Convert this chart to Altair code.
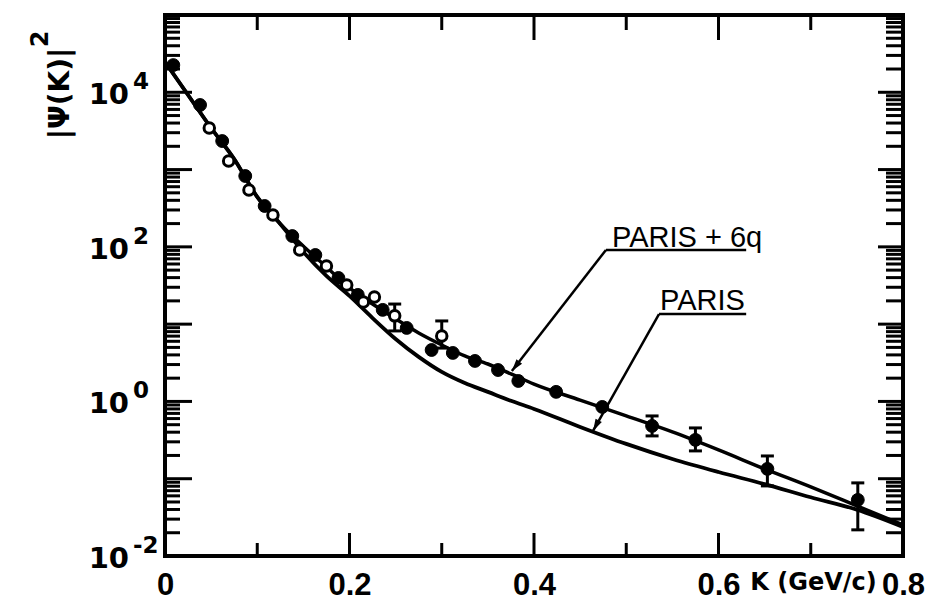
import altair as alt
import pandas as pd

# ---------------- data ----------------
filled_k = [0.009, 0.038, 0.062, 0.087, 0.108, 0.138, 0.163, 0.188, 0.209, 0.236, 0.262,
            0.289, 0.312, 0.336, 0.361, 0.383, 0.424, 0.474, 0.528, 0.575, 0.653, 0.751]
filled_psi2 = [22500, 6850, 2340, 826, 338, 138, 78.5, 39.6, 23.9, 15.3, 8.93,
               4.63, 4.24, 3.34, 2.55, 1.84, 1.33, 0.849, 0.482, 0.318, 0.134, 0.0532]

open_k = [0.048, 0.069, 0.091, 0.117, 0.146, 0.175, 0.197, 0.215, 0.227, 0.249, 0.300]
open_psi2 = [3450, 1290, 545, 259, 91.2, 56.6, 32.1, 19.4, 22.5, 12.8, 7.03]

err_k = [0.249, 0.300, 0.528, 0.575, 0.653, 0.751]
err_lo = [8.17, 4.9, 0.358, 0.229, 0.0807, 0.0218]
err_hi = [18.2, 11.0, 0.649, 0.454, 0.197, 0.0883]

curve_k = [0.000, 0.025, 0.050, 0.075, 0.100, 0.125, 0.150, 0.175, 0.200, 0.225, 0.250,
           0.275, 0.300, 0.325, 0.350, 0.375, 0.400, 0.450, 0.500, 0.550, 0.600, 0.650,
           0.700, 0.750, 0.800]
paris6q_psi2 = [24700, 9230, 3450, 1370, 442, 198, 102, 55.0, 29.4, 18.2, 11.7,
                7.69, 5.38, 3.88, 3.05, 2.27, 1.68, 1.04, 0.649, 0.403, 0.236, 0.134,
                0.0783, 0.0445, 0.0252]
paris_psi2 = [24700, 9230, 3450, 1370, 442, 198, 85.9, 42.1, 23.2, 12.0, 6.43,
              3.77, 2.41, 1.73, 1.33, 1.02, 0.80, 0.468, 0.282, 0.180, 0.122, 0.0851,
              0.0575, 0.0398, 0.0238]

# annotation anchors (data coordinates)
ann_labels = ["PARIS + 6q", "PARIS"]
ann_text_k = [0.4846, 0.5366]
ann_text_psi2 = [99.8, 15.3]
ann_line_k_end = [0.630, 0.630]
ann_start_k = [0.478, 0.5355]
ann_start_psi2 = [91.2, 13.5]
ann_tip_k = [0.376, 0.464]
ann_tip_psi2 = [2.48, 0.415]

# axis ticks / labels
x_label_values = [0, 0.2, 0.4, 0.6, 0.8]
x_label_texts = ["0", "0.2", "0.4", "0.6", "0.8"]
x_major_ticks = [0.2, 0.4, 0.6]
x_minor_ticks = [0.1, 0.3, 0.5, 0.7]
y_label_values = [1e4, 1e2, 1.0, 1e-2]
y_label_base = ["10", "10", "10", "10"]
y_label_exp = ["4", "2", "0", "-2"]
y_major_ticks = [1e-1, 1.0, 1e1, 1e2, 1e3, 1e4]
y_minor_ticks = [m * 10.0 ** e for e in range(-2, 5) for m in range(2, 10)]
y_title = "|Ψ(K)|"
y_title_power = ["2"]

# ---------------- chart ----------------
W, H = 738, 541
xs = alt.Scale(domain=[0, 0.8], nice=False, zero=False)
ys = alt.Scale(type="log", domain=[0.01, 1e5], nice=False)

label_expr = " : ".join(
    f"datum.value == {v} ? '{t}'" for v, t in zip(x_label_values, x_label_texts)
) + " : ''"

x_axis = alt.Axis(values=x_label_values, labelExpr=label_expr, ticks=False, tickSize=0,
                  domain=False, grid=False, labelFont="Liberation Sans",
                  labelFontWeight="bold", labelFontSize=31, labelColor="black",
                  labelBaseline="alphabetic", labelPadding=38, labelOverlap=False,
                  labelFlush=False, title="K (GeV/c)", titleX=648, titleY=33,
                  titleAlign="center", titleBaseline="alphabetic", titleFont="DejaVu Sans",
                  titleFontWeight="bold", titleFontSize=24, titleColor="black")
y_axis = alt.Axis(values=y_label_values, labels=False, ticks=False, tickSize=0, domain=False,
                  grid=False, title=y_title, titleAngle=270, titleX=-105, titleY=78,
                  titleAlign="center", titleBaseline="middle", titleFont="DejaVu Sans",
                  titleFontWeight="bold", titleFontSize=28, titleColor="black")


def X(f):
    return alt.X(f, type="quantitative", scale=xs, axis=x_axis)


def Y(f):
    return alt.Y(f, type="quantitative", scale=ys, axis=y_axis)


curves = pd.DataFrame({"k": curve_k, "upper": paris6q_psi2, "lower": paris_psi2})
upper = alt.Chart(curves).mark_line(color="black", strokeWidth=3.5, interpolate="monotone").encode(
    x=X("k"), y=Y("upper"))
lower = alt.Chart(curves).mark_line(color="black", strokeWidth=3.8, interpolate="monotone").encode(
    x=X("k"), y=Y("lower"))

err = pd.DataFrame({"k": err_k, "lo": err_lo, "hi": err_hi})
err_rule = alt.Chart(err).mark_rule(color="black", strokeWidth=3).encode(
    x=X("k"), y=Y("lo"), y2="hi:Q")
cap_lo = alt.Chart(err).mark_tick(color="black", orient="horizontal", size=13, thickness=3,
                                  opacity=1).encode(x=X("k"), y=Y("lo"))
cap_hi = alt.Chart(err).mark_tick(color="black", orient="horizontal", size=13, thickness=3,
                                  opacity=1).encode(x=X("k"), y=Y("hi"))

filled = alt.Chart(pd.DataFrame({"k": filled_k, "v": filled_psi2})).mark_point(
    shape="circle", filled=True, fill="black", stroke="black", strokeWidth=1, size=165,
    opacity=1).encode(x=X("k"), y=Y("v"))
opened = alt.Chart(pd.DataFrame({"k": open_k, "v": open_psi2})).mark_point(
    shape="circle", filled=True, fill="white", stroke="black", strokeWidth=3, size=110,
    opacity=1).encode(x=X("k"), y=Y("v"))

ann = pd.DataFrame({"label": ann_labels, "tk": ann_text_k, "tv": ann_text_psi2,
                    "sk": ann_start_k, "sv": ann_start_psi2, "ek": ann_line_k_end,
                    "pk": ann_tip_k, "pv": ann_tip_psi2})
ann_text = alt.Chart(ann).mark_text(align="left", baseline="alphabetic", font="Liberation Sans",
                                    fontSize=29, color="black").encode(
    x=X("tk"), y=Y("tv"), text="label:N")
ann_under = alt.Chart(ann).mark_rule(color="black", strokeWidth=2.5).encode(
    x=X("sk"), x2="ek:Q", y=Y("sv"))
ann_lead = alt.Chart(ann).mark_rule(color="black", strokeWidth=2.5).encode(
    x=X("sk"), x2="pk:Q", y=Y("sv"), y2="pv:Q")
arrow_shape = "M -0.5 1.7 L 0 0 L 0.5 1.7 Z"
arrow1 = alt.Chart(ann.iloc[[0]]).mark_point(shape=arrow_shape, filled=True, color="black",
                                             size=200, angle=218, opacity=1).encode(
    x=X("pk"), y=Y("pv"))
arrow2 = alt.Chart(ann.iloc[[1]]).mark_point(shape=arrow_shape, filled=True, color="black",
                                             size=200, angle=208, opacity=1).encode(
    x=X("pk"), y=Y("pv"))

# inward ticks of the frame
ymaj = pd.DataFrame({"v": y_major_ticks})
ymin = pd.DataFrame({"v": y_minor_ticks})
xmaj = pd.DataFrame({"k": x_major_ticks})
xmin = pd.DataFrame({"k": x_minor_ticks})


def ytick(df, a, b):
    return alt.Chart(df).mark_rule(color="black", strokeWidth=3).encode(
        y=Y("v"), x=alt.value(a), x2=alt.value(b))


def xtick(df, a, b):
    return alt.Chart(df).mark_rule(color="black", strokeWidth=3).encode(
        x=X("k"), y=alt.value(a), y2=alt.value(b))


ticks = [ytick(ymin, 0, 15), ytick(ymaj, 0, 27), ytick(ymin, W, W - 17), ytick(ymaj, W, W - 25),
         xtick(xmin, H, H - 13), xtick(xmaj, H, H - 23), xtick(xmin, 0, 15), xtick(xmaj, 0, 25)]

ylab = pd.DataFrame({"v": y_label_values, "base": y_label_base, "exp": y_label_exp})
ten = alt.Chart(ylab).mark_text(align="right", baseline="middle", font="DejaVu Sans",
                                fontWeight="bold", fontSize=29, dy=3, color="black").encode(
    x=alt.value(-36), y=Y("v"), text="base:N")
expo = alt.Chart(ylab).mark_text(align="left", baseline="middle", font="DejaVu Sans",
                                 fontWeight="bold", fontSize=23, dy=-10, color="black").encode(
    x=alt.value(-32), y=Y("v"), text="exp:N")
power = alt.Chart(pd.DataFrame({"t": y_title_power})).mark_text(
    align="center", baseline="middle", font="DejaVu Sans", fontWeight="bold", fontSize=24,
    angle=270, color="black").encode(x=alt.value(-124), y=alt.value(24), text="t:N")

chart = alt.layer(
    upper, lower, *ticks, err_rule, cap_lo, cap_hi, filled, opened,
    ann_lead, ann_under, ann_text, arrow1, arrow2, ten, expo, power
).properties(
    width=W, height=H,
    autosize=alt.AutoSizeParams(type="none"),
    padding={"left": 157, "top": 7, "right": 25, "bottom": 46},
    background="white",
).configure_view(stroke="black", strokeWidth=4)

chart.save("out.html", embed_options={"renderer": "svg", "actions": False})
